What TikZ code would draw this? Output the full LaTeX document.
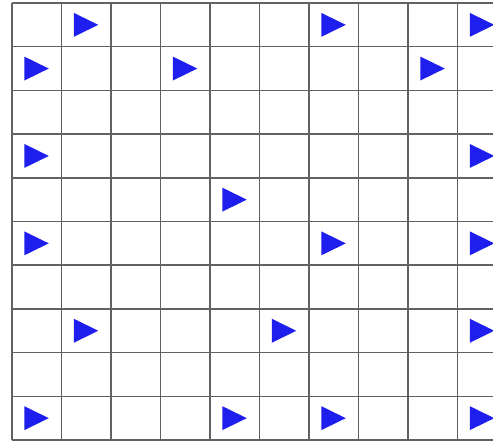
\documentclass[tikz,border=0pt]{standalone}
\usepackage{tikz}
\usetikzlibrary{calc}
\definecolor{triblue}{RGB}{30,30,238}
\begin{document}
\begin{tikzpicture}[x=0.02cm,y=-0.02cm,
 gridline/.style={draw=black!62,line width=0.85pt},
 marker/.style={fill=triblue}]
\useasboundingbox (0,0) rectangle (493,442);
\clip (0,0) rectangle (493,442);
\fill[white] (0,0) rectangle (493,442);
% grid 10x10
\foreach \i in {0,...,10} {
  \draw[gridline] ({12+49.5*\i},3) -- ({12+49.5*\i},440);
  \draw[gridline] (12,{3+43.7*\i}) -- (510,{3+43.7*\i});
}
% triangles (row/col)
\foreach \r/\c in {1/2,1/7,1/10,2/1,2/4,2/9,4/1,4/10,5/5,6/1,6/7,6/10,
                   8/2,8/6,8/10,10/1,10/5,10/7,10/10}
  \fill[marker] ({12+49.5*(\c-0.5)-12.5},{3+43.7*(\r-0.5)-12}) -- ++(24.5,12) -- ++(-24.5,12) -- cycle;
\end{tikzpicture}
\end{document}
